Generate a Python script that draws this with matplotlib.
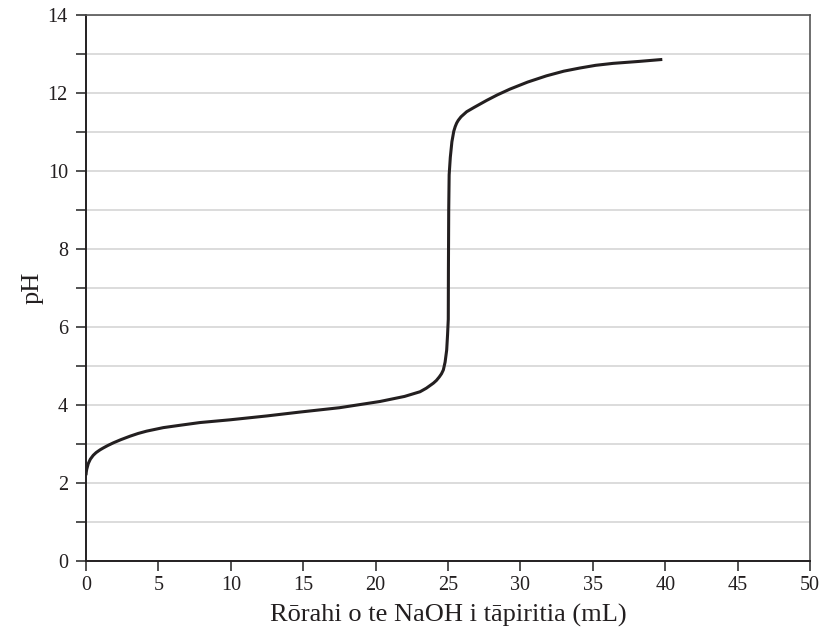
import matplotlib.pyplot as plt
from matplotlib.ticker import MultipleLocator

# titration curve
naoh_ml = [0, 0.02, 0.05, 0.16, 0.3, 0.5, 0.7, 0.97, 1.2, 1.5, 1.89, 2.4, 3.04,
           3.6, 4.19, 5.34, 6.49, 7.87, 9.94, 12.5, 14.8, 17.5, 20.3, 22.0,
           23.07, 23.5, 23.99, 24.2, 24.4, 24.55, 24.68, 24.8, 24.91, 24.97,
           25.02, 25.03, 25.05, 25.08, 25.16, 25.27, 25.4, 25.5, 25.6, 25.71,
           25.9, 26.29, 26.8, 27.67, 28.4, 29.28, 30.5, 31.8, 33.0, 34.1, 35.2,
           36.4, 38.2, 39.8]
ph = [2.2, 2.28, 2.35, 2.5, 2.61, 2.71, 2.78, 2.85, 2.90, 2.96, 3.03, 3.11, 3.20,
      3.27, 3.33, 3.42, 3.48, 3.55, 3.62, 3.72, 3.82, 3.93, 4.09, 4.22,
      4.34, 4.43, 4.56, 4.63, 4.72, 4.80, 4.90, 5.10, 5.41, 5.8,
      6.2, 7.5, 9.0, 9.9, 10.35, 10.75, 11.02, 11.14, 11.23, 11.30,
      11.39, 11.52, 11.63, 11.81, 11.95, 12.10, 12.28, 12.44, 12.56, 12.64, 12.71,
      12.76, 12.81, 12.86]

x_ticks = [0, 5, 10, 15, 20, 25, 30, 35, 40, 45, 50]
y_ticks = [0, 2, 4, 6, 8, 10, 12, 14]

plt.rcParams['font.family'] = ['Liberation Serif', 'DejaVu Serif']

fig = plt.figure(figsize=(8.22, 6.41), dpi=100)
ax = fig.add_axes([0.1046, 0.1248, 0.8808, 0.8518])

ax.plot(naoh_ml, ph, color='#231f20', linewidth=2.2, solid_joinstyle='round',
        solid_capstyle='butt', zorder=3)

ax.set_xlim(0, 50)
ax.set_ylim(0, 14)
ax.set_xticks(x_ticks)
ax.set_yticks(y_ticks)
ax.yaxis.set_minor_locator(MultipleLocator(1))
ax.grid(True, which='both', axis='y', color='#d9d9d9', linewidth=1.3)
ax.set_axisbelow(True)

for side in ['left', 'bottom']:
    ax.spines[side].set_color('#231f20')
    ax.spines[side].set_linewidth(1.4)
for side in ['top', 'right']:
    ax.spines[side].set_color('#555555')
    ax.spines[side].set_linewidth(1.2)

ax.tick_params(axis='both', which='both', direction='out', length=7, width=1.2,
               color='#333333', labelsize=14.5, labelcolor='#231f20')
ax.tick_params(axis='y', pad=6)
ax.tick_params(axis='x', pad=4)

ax.set_xlabel('Rōrahi o te NaOH i tāpiritia (mL)', fontsize=19, color='#231f20', labelpad=6)
ax.set_ylabel('pH', fontsize=19, color='#231f20', labelpad=3)

fig.savefig('out.png', dpi=100)
